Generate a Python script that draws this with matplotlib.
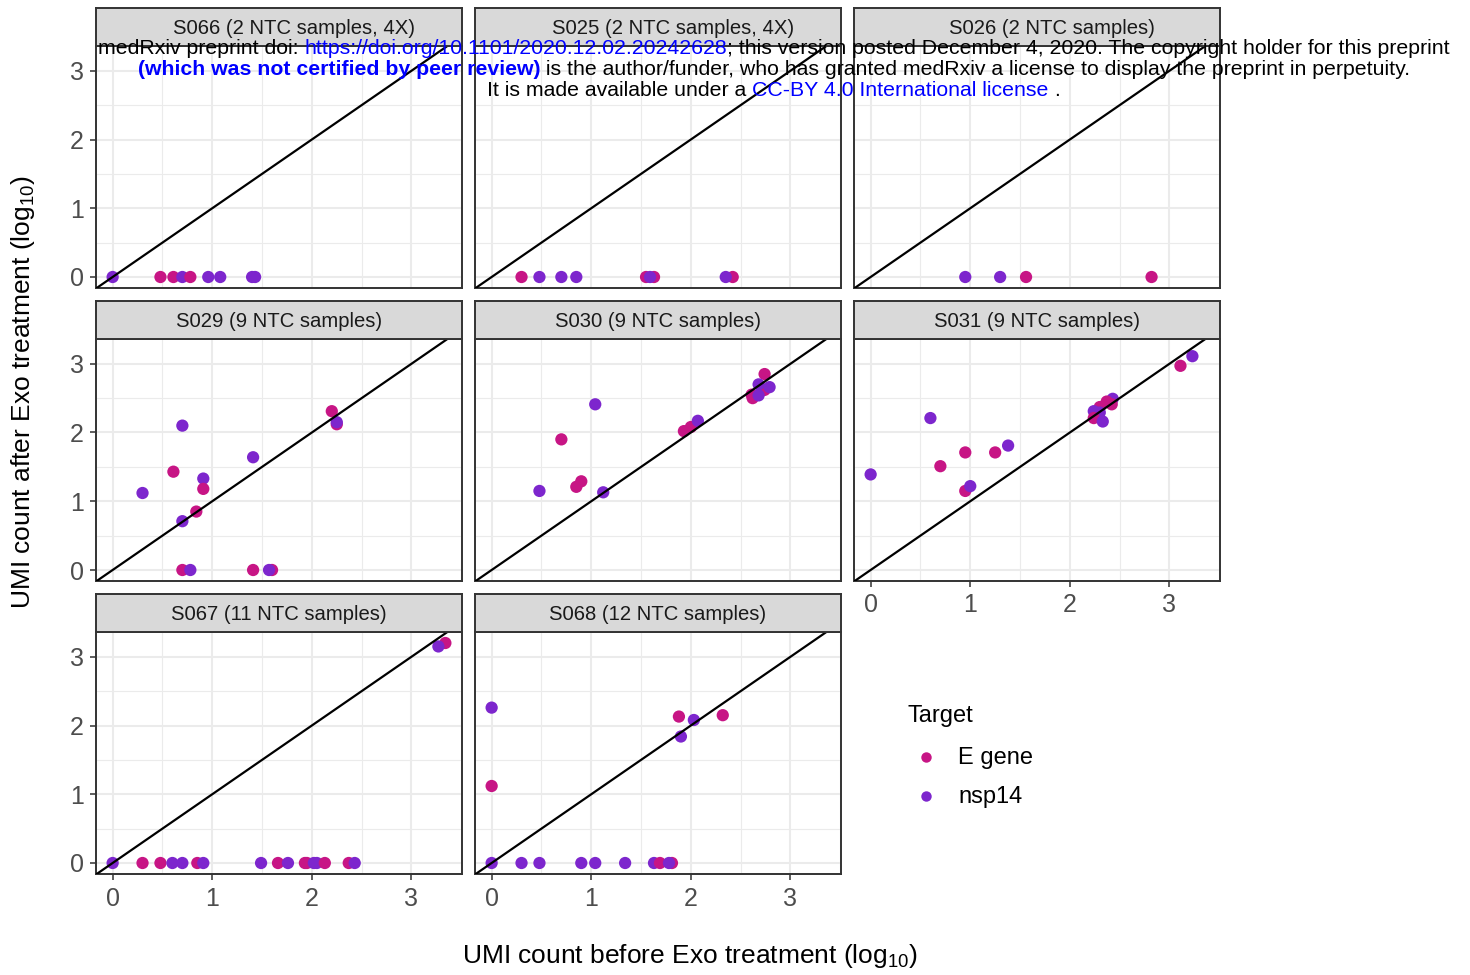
import matplotlib
matplotlib.use('Agg')
import matplotlib.pyplot as plt
from matplotlib.lines import Line2D

plt.rcParams['font.family'] = ['Liberation Sans', 'DejaVu Sans']
plt.rcParams['mathtext.fontset'] = 'custom'
plt.rcParams['mathtext.rm'] = 'Liberation Sans'
plt.rcParams['mathtext.it'] = 'Liberation Sans:italic'
plt.rcParams['mathtext.bf'] = 'Liberation Sans:bold'
plt.rcParams['mathtext.default'] = 'regular'

# ---------------- data ----------------
panel_titles = ["S066 (2 NTC samples, 4X)", "S025 (2 NTC samples, 4X)", "S026 (2 NTC samples)",
                "S029 (9 NTC samples)", "S030 (9 NTC samples)", "S031 (9 NTC samples)",
                "S067 (11 NTC samples)", "S068 (12 NTC samples)"]

target_names = ["E gene", "nsp14"]
target_colors = {"E gene": "#C71585", "nsp14": "#7D26CD"}

s066_before = [0, 0.48, 0.61, 0.70, 0.78, 0.96, 1.08, 1.40, 1.43]
s066_after = [0, 0, 0, 0, 0, 0, 0, 0, 0]
s066_target = ["nsp14", "E gene", "E gene", "nsp14", "E gene", "nsp14", "nsp14", "nsp14", "nsp14"]

s025_before = [0.30, 0.48, 0.70, 0.85, 1.55, 1.63, 1.59, 2.42, 2.35]
s025_after = [0, 0, 0, 0, 0, 0, 0, 0, 0]
s025_target = ["E gene", "nsp14", "nsp14", "nsp14", "E gene", "E gene", "nsp14", "E gene", "nsp14"]

s026_before = [0.95, 1.30, 1.56, 2.82]
s026_after = [0, 0, 0, 0]
s026_target = ["nsp14", "nsp14", "E gene", "E gene"]

s029_before = [0.70, 2.20, 2.25, 2.25, 1.41, 0.61, 0.91, 0.91, 0.30, 0.84, 0.70, 0.70, 0.78, 1.41, 1.60, 1.57]
s029_after = [2.10, 2.31, 2.12, 2.15, 1.64, 1.43, 1.33, 1.18, 1.12, 0.85, 0.71, 0, 0, 0, 0, 0]
s029_target = ["nsp14", "E gene", "E gene", "nsp14", "nsp14", "E gene", "nsp14", "E gene", "nsp14",
               "E gene", "nsp14", "E gene", "nsp14", "E gene", "E gene", "nsp14"]

s030_before = [2.74, 2.61, 2.62, 2.74, 2.68, 2.68, 2.79, 1.04, 1.93, 2.00, 2.07, 0.70, 0.90, 0.85, 0.48, 1.12]
s030_after = [2.85, 2.55, 2.50, 2.62, 2.54, 2.70, 2.66, 2.41, 2.02, 2.08, 2.17, 1.90, 1.29, 1.21, 1.15, 1.13]
s030_target = ["E gene", "E gene", "E gene", "E gene", "nsp14", "nsp14", "nsp14", "nsp14", "E gene",
               "E gene", "nsp14", "E gene", "E gene", "E gene", "nsp14", "nsp14"]

s031_before = [3.23, 3.11, 2.43, 2.37, 2.42, 2.30, 2.24, 2.30, 2.24, 2.33, 0.60, 1.38, 0.95, 1.25, 0.70, 0, 0.95, 1.00]
s031_after = [3.11, 2.97, 2.49, 2.45, 2.41, 2.37, 2.31, 2.29, 2.21, 2.16, 2.21, 1.81, 1.71, 1.71, 1.51, 1.39, 1.15, 1.22]
s031_target = ["nsp14", "E gene", "nsp14", "E gene", "E gene", "E gene", "nsp14", "nsp14", "E gene",
               "nsp14", "nsp14", "nsp14", "E gene", "E gene", "E gene", "nsp14", "E gene", "nsp14"]

s067_before = [3.34, 3.27, 0, 0.30, 0.48, 0.60, 0.70, 0.85, 0.91, 1.49, 1.66, 1.76, 1.93, 1.95, 2.02, 2.05, 2.13, 2.37, 2.43]
s067_after = [3.20, 3.15, 0, 0, 0, 0, 0, 0, 0, 0, 0, 0, 0, 0, 0, 0, 0, 0, 0]
s067_target = ["E gene", "nsp14", "nsp14", "E gene", "E gene", "nsp14", "nsp14", "E gene", "nsp14", "nsp14",
               "E gene", "nsp14", "E gene", "E gene", "nsp14", "nsp14", "E gene", "E gene", "nsp14"]

s068_before = [0, 0, 1.88, 2.03, 1.90, 2.32, 0, 0.30, 0.48, 0.90, 1.04, 1.34, 1.63, 1.69, 1.81, 1.78]
s068_after = [2.26, 1.12, 2.13, 2.08, 1.84, 2.15, 0, 0, 0, 0, 0, 0, 0, 0, 0, 0]
s068_target = ["nsp14", "E gene", "E gene", "nsp14", "nsp14", "E gene", "nsp14", "nsp14", "nsp14",
               "nsp14", "nsp14", "nsp14", "nsp14", "E gene", "E gene", "nsp14"]

axis_ticks = [0, 1, 2, 3]
tick_labels = ["0", "1", "2", "3"]

panel_before = [s066_before, s025_before, s026_before, s029_before, s030_before, s031_before, s067_before, s068_before]
panel_after = [s066_after, s025_after, s026_after, s029_after, s030_after, s031_after, s067_after, s068_after]
panel_target = [s066_target, s025_target, s026_target, s029_target, s030_target, s031_target, s067_target, s068_target]

# ---------------- layout ----------------
W, H = 1470, 975
fig = plt.figure(figsize=(W / 100, H / 100), dpi=100)

col_left = [96, 475, 854]
row_top = [46, 339, 632]
pw, ph = 366, 242
strip_h = 38
BORDER = '#333333'

for i, title in enumerate(panel_titles):
    r, c = divmod(i, 3)
    left, top = col_left[c], row_top[r]
    ax = fig.add_axes([left / W, 1 - (top + ph) / H, pw / W, ph / H])
    ax.set_xlim(-0.167, 3.507)
    ax.set_ylim(-0.16, 3.36)
    ax.set_xticks(axis_ticks)
    ax.set_yticks(axis_ticks)
    ax.set_xticks([0.5, 1.5, 2.5, 3.5], minor=True)
    ax.set_yticks([0.5, 1.5, 2.5], minor=True)
    ax.set_xticklabels(tick_labels)
    ax.set_yticklabels(tick_labels)
    ax.grid(which='major', color='#EBEBEB', lw=1.5)
    ax.grid(which='minor', color='#EBEBEB', lw=0.8)
    ax.set_axisbelow(True)
    for sp in ax.spines.values():
        sp.set_color(BORDER)
        sp.set_linewidth(1.4)
    show_left = (c == 0)
    show_bottom = (r == 2) or (r == 1 and c == 2)
    ax.tick_params(which='major', length=4.5, width=1.1, color=BORDER, labelcolor='#4D4D4D',
                   labelsize=18, pad=4.5,
                   left=show_left, labelleft=show_left,
                   bottom=show_bottom, labelbottom=show_bottom)
    ax.tick_params(which='minor', length=0, left=False, bottom=False)
    cols = [target_colors[t] for t in panel_target[i]]
    ax.scatter(panel_before[i], panel_after[i], c=cols, s=78, edgecolors='none', zorder=3)
    ax.axline((0, 0), slope=1, color='black', lw=1.6, zorder=4)

    sax = fig.add_axes([left / W, 1 - top / H, pw / W, strip_h / H])
    sax.set_facecolor('#D9D9D9')
    sax.set_xticks([])
    sax.set_yticks([])
    for sp in sax.spines.values():
        sp.set_color(BORDER)
        sp.set_linewidth(1.4)
    tx = 0.5 + (15 / pw if r == 0 else 0)
    sax.text(tx, 0.47, title, ha='center', va='center', fontsize=14.6, color='#1A1A1A',
             transform=sax.transAxes)

# axis titles
fig.text(690 / W, 1 - 956 / H, r'UMI count before Exo treatment (log$_{10}$)',
         ha='center', va='center', fontsize=19)
fig.text(23 / W, 1 - 392 / H, r'UMI count after Exo treatment (log$_{10}$)',
         ha='center', va='center', fontsize=19, rotation=90)

# legend
fig.text(907 / W, 1 - 716 / H, "Target", ha='left', va='center', fontsize=17)
for k, name in enumerate(target_names):
    yk = 757 + 39 * k
    fig.add_artist(Line2D([926 / W], [1 - yk / H], marker='o', markersize=7.5, color=target_colors[name],
                          markeredgewidth=0, linestyle='none', transform=fig.transFigure))
    fig.text(958 / W, 1 - (yk + 1) / H, name, ha='left', va='center', fontsize=17)

# medRxiv header overlay
header_lines = [
    [("medRxiv preprint doi: ", 'black', 'normal'),
     ("https://doi.org/10.1101/2020.12.02.20242628", '#0000FF', 'normal'),
     ("; this version posted December 4, 2020. The copyright holder for this preprint", 'black', 'normal')],
    [("(which was not certified by peer review)", '#0000FF', 'bold'),
     (" is the author/funder, who has granted medRxiv a license to display the preprint in perpetuity.", 'black', 'normal')],
    [("It is made available under a ", 'black', 'normal'),
     ("CC-BY 4.0 International license", '#0000FF', 'normal'),
     (" .", 'black', 'normal')],
]
renderer = fig.canvas.get_renderer()


def text_width(s, fs, weight):
    t = fig.text(0, 0, s + '|', fontsize=fs, weight=weight)
    w1 = t.get_window_extent(renderer).width
    t.set_text('|')
    w2 = t.get_window_extent(renderer).width
    t.remove()
    return w1 - w2


base_fs = 12
w_line1 = sum(text_width(s, base_fs, wt) for s, _, wt in header_lines[0])
hfs = base_fs * 1356 / w_line1
baselines = [53.5, 75, 96.5]
center_x = 774
for line, yb in zip(header_lines, baselines):
    widths = [text_width(s, hfs, wt) for s, _, wt in line]
    x = center_x - sum(widths) / 2
    for (s, col, wt), w in zip(line, widths):
        fig.text(x / W, 1 - yb / H, s, fontsize=hfs, weight=wt, color=col,
                 ha='left', va='baseline', zorder=10)
        x += w

fig.savefig('out.png', dpi=100)
